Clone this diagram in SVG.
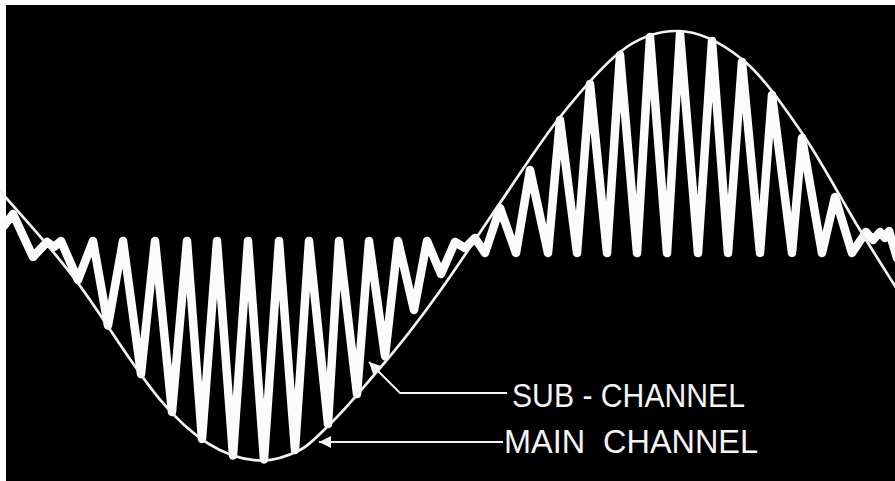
<svg xmlns="http://www.w3.org/2000/svg" width="895" height="481" viewBox="0 0 895 481">
  <style>
    .bg { fill: #000; }
    .main { fill: none; stroke: #f2f2f2; stroke-width: 2.7; stroke-linecap: round; }
    .sub { fill: none; stroke: #fbfbfb; stroke-width: 8.5; stroke-linejoin: round; stroke-linecap: round; }
    .leader { fill: none; stroke: #f4f4f4; stroke-width: 2; }
    .lbl { fill: #f4f4f4; font-family: "Liberation Sans", Arial, sans-serif; font-size: 33px; }
  </style>
  <defs>
    <marker id="arrow" viewBox="0 0 10 10" refX="10" refY="5" markerUnits="userSpaceOnUse" markerWidth="18" markerHeight="12" orient="auto">
      <path d="M0,0 L10,5 L0,10 Z" fill="#f4f4f4"/>
    </marker>
  </defs>

  <rect x="0" y="0" width="895" height="481" fill="#ffffff"/>
  <rect class="bg" x="6" y="5" width="889" height="476"/>

  <g id="sub-channel-trace">
    <polyline class="sub" points="4,226 13,214 33,257 47,242 54,247 61,241 78,280 93,241 108,325.5 123,241 141,374 155,241 172,412 187,241 202,439 217,241 233,455.5 248,241 264,459.5 279,241 295,450 309,241 328,424 339,241 357,394 369,241 385,356 398,241 414,310 427,241 441,274 455,242 465,248 475,238 485,253 500,208 516,253 530,170 548,253 560,120 577,253 590,84 607,253 620,55 637,253 650,37 667,253 680,34 698,253 712,41 728,253 742,62 760,253 772,95 792,253 802,138 822,253 835,197 852,253 866,232 873,240 880,232 885,238 889,231 897,258"/>
  </g>

  <g id="main-channel-trace">
    <path class="main" d="M0,191 C27.67,222.8 55.33,251.3 83,290 C108.67,325.9 134.33,369.1 160,399.6 C194,440.1 228,460.5 262,460.5 C274.67,460.5 287.33,456.33 300,450 C310,445 320,433.5 330,424 C346.67,408.2 363.33,387.2 380,368 C400,345 420,319 440,291 C460,263 480,232 500,203 C520,174 540,142 560,117 C580,92 600,68 620,52 C639,36.8 658,31 677,31 C699,31 721,42.05 743,60 C762.67,76.05 782.33,104.4 802,133 C821.33,161.1 840.67,198.4 860,230 C873.33,251.8 886.67,272.7 900,294"/>
  </g>

  <g id="connectors">
    <path class="leader" d="M507,393 H400 L369,362" marker-end="url(#arrow)"/>
    <path class="leader" d="M503,442 H319" marker-end="url(#arrow)"/>
  </g>

  <g id="label-sub">
    <text class="lbl" x="512" y="407" textLength="233" lengthAdjust="spacingAndGlyphs" xml:space="preserve">SUB - CHANNEL</text>
  </g>
  <g id="label-main">
    <text class="lbl" x="504" y="453" textLength="254" lengthAdjust="spacingAndGlyphs" xml:space="preserve">MAIN  CHANNEL</text>
  </g>
</svg>
